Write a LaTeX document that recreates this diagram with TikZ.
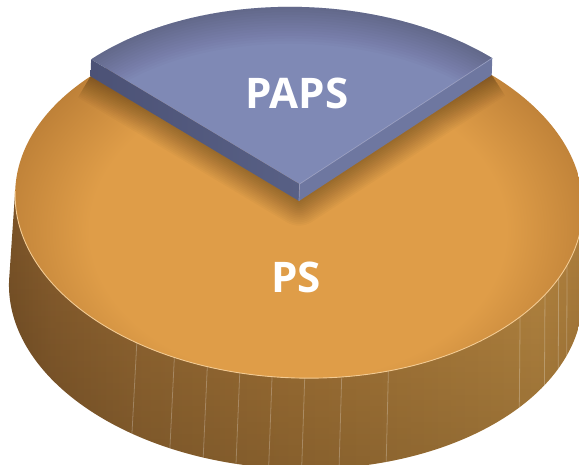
\documentclass[tikz,border=0pt]{standalone}
\usepackage{fontspec}
\setmainfont{Open Sans}
\usetikzlibrary{calc,fadings}

% palette
\definecolor{toporange}{HTML}{DF9D48}
\definecolor{toprim}{HTML}{BC7F37}
\definecolor{sideA}{HTML}{7B5428}
\definecolor{sideB}{HTML}{8A5F2E}
\definecolor{sideC}{HTML}{9A6C34}
\definecolor{sideD}{HTML}{A87738}
\definecolor{sideE}{HTML}{B3823E}
\definecolor{sideF}{HTML}{BA8942}
\definecolor{sideG}{HTML}{B0803D}
\definecolor{rimlight}{HTML}{F3CB93}
\definecolor{purpletop}{HTML}{7F89B5}
\definecolor{purpleleft}{HTML}{586085}
\definecolor{purpleleftdark}{HTML}{4C5276}
\definecolor{purpleright}{HTML}{6E77A0}
\definecolor{purpleedge}{HTML}{A4ABCF}

\pgfdeclarehorizontalshading{pieside}{100bp}{%
  color(0bp)=(sideA); color(25bp)=(sideA); color(29bp)=(sideB);
  color(37bp)=(sideC); color(50bp)=(sideD); color(63bp)=(sideE);
  color(71bp)=(sideF); color(75bp)=(sideG); color(100bp)=(sideG)}
\pgfdeclareradialshading{toprimshade}{\pgfpoint{0bp}{0bp}}{%
  color(0bp)=(toporange); color(17bp)=(toporange); color(25bp)=(toprim);
  color(50bp)=(toprim)}

\tikzset{
  stripe/.style={draw=white, opacity=.25, line width=.45pt},
  label/.style={text=white, font=\bfseries\fontsize{24}{28}\selectfont, inner sep=0pt},
  topradii/.style={x radius=284, y radius=177},
  botradii/.style={x radius=287, y radius=178},
}

\begin{document}
\begin{tikzpicture}[x=0.02cm,y=0.02cm]
\useasboundingbox (0,0) rectangle (579,465);
\clip (0,0) rectangle (579,465);

\begin{scope}[rotate around={-2:(299,264)}]
  \coordinate (Ct) at (299,264);   % centre of the top face
  \coordinate (Cb) at (299,174);   % centre of the bottom rim
  \coordinate (Pt) at (299,281);   % raised apex of the slice

  % rim points
  \coordinate (TL) at ($(Ct)+(180:284 and 177)$);
  \coordinate (BR) at ($(Cb)+(0:287 and 178)$);

  % --- cylinder wall ---
  \shade[shading=pieside] (TL) arc[start angle=180,end angle=360,topradii]
      -- (BR) arc[start angle=0,end angle=-180,botradii] -- cycle;
  \fill[black, opacity=.2, path fading=north] (TL) arc[start angle=180,end angle=360,topradii]
      -- (BR) arc[start angle=0,end angle=-180,botradii] -- cycle;

  % seams on the wall
  \foreach \a in {236.4,245.2,252.4,259.2,265.8,272.4,279.9,289.6,322.4,331.3,337.4,342.0}
    \draw[stripe] ($(Ct)+(\a:284 and 177)$) -- ($(Cb)+(\a:287 and 178)$);

  % --- top face ---
  \begin{scope}
    \clip (Ct) ellipse[topradii];
    \shade[shading=toprimshade] (299,232) ellipse[x radius=302, y radius=216];
    % soft shadow of the slice
    \foreach \w in {2,4,...,28}
      \draw[black, opacity=.022, line width=\w pt, line join=round]
        ($(Ct)+(138.5:284 and 177)$) -- (Ct) -- ($(Ct)+(48.5:284 and 177)$);
  \end{scope}
  \draw[rimlight, line width=.5pt] (TL) arc[start angle=180,end angle=360,topradii];

  % --- raised slice ---
  \coordinate (Lb) at ($(Ct)+(138.5:284 and 177)$);
  \coordinate (Rb) at ($(Ct)+(48.5:284 and 177)$);
  \coordinate (Lt) at ($(Pt)+(138.5:284 and 177)$);
  \coordinate (Rt) at ($(Pt)+(48.5:284 and 177)$);
  \shade[left color=purpleleftdark, right color=purpleleft] (Lb) -- (Ct) -- (Pt) -- (Lt) -- cycle;
  \fill[purpleright] (Ct) -- (Rb) -- (Rt) -- (Pt) -- cycle;
  \fill[purpletop] (Pt) -- (Lt) arc[start angle=138.5,end angle=48.5,topradii] -- cycle;
  \begin{scope}
    \clip (Pt) -- (Lt) arc[start angle=138.5,end angle=48.5,topradii] -- cycle;
    \foreach \w in {3,6,...,42}
      \draw[black, opacity=.016, line width=\w pt]
        (Lt) arc[start angle=138.5,end angle=48.5,topradii];
  \end{scope}
  \draw[purpleedge, opacity=.7, line width=.4pt] (Ct) -- (Pt) -- (Rt);
\end{scope}

% --- labels ---
\node[label] (paps) at (297,372) {PAPS};
\node[label] (ps) at (296,188) {PS};
\end{tikzpicture}
\end{document}
